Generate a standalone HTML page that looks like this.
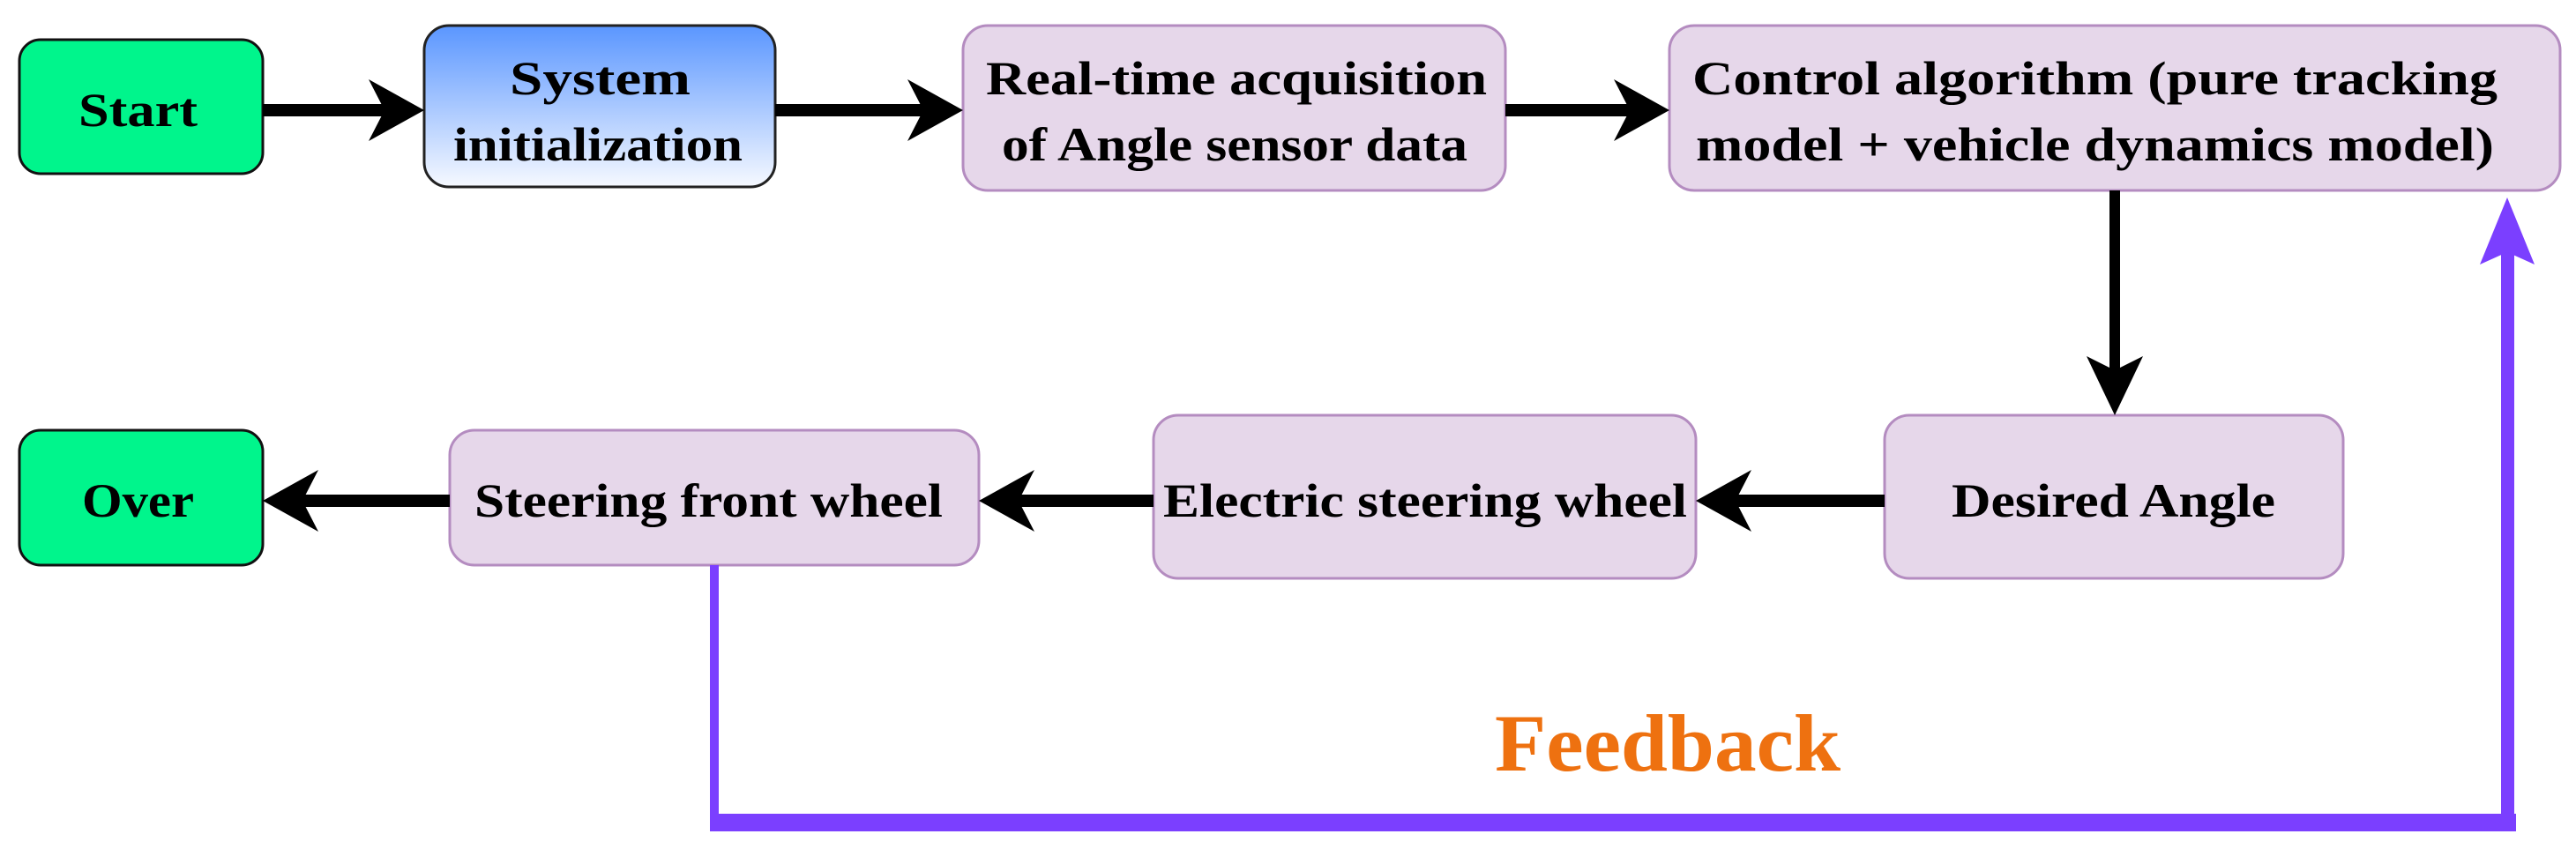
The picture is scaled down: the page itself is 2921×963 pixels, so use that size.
<!DOCTYPE html>
<html><head><meta charset="utf-8"><style>html,body{margin:0;padding:0;background:#fff;}svg{display:block}</style></head>
<body>
<svg width="2921" height="963" viewBox="0 0 2921 963" xmlns="http://www.w3.org/2000/svg">
<defs>
<linearGradient id="g" x1="0" y1="0" x2="0" y2="1"><stop offset="0" stop-color="#5a96ff"/><stop offset="1" stop-color="#f6f9ff"/></linearGradient>
</defs>
<g font-family="Liberation Serif, serif" font-weight="bold" fill="#000" text-anchor="start">
<rect x="22" y="45" width="276" height="152" rx="24" fill="#00f58c" stroke="#111" stroke-width="3"/>
<rect x="481" y="29" width="398" height="183" rx="28" fill="url(#g)" stroke="#222" stroke-width="3"/>
<rect x="1092" y="29" width="615" height="187" rx="28" fill="#e6d7ea" stroke="#b48cc0" stroke-width="3"/>
<rect x="1893" y="29" width="1010" height="187" rx="28" fill="#e6d7ea" stroke="#b48cc0" stroke-width="3"/>
<rect x="2137" y="471" width="520" height="185" rx="28" fill="#e6d7ea" stroke="#b48cc0" stroke-width="3"/>
<rect x="1308" y="471" width="615" height="185" rx="28" fill="#e6d7ea" stroke="#b48cc0" stroke-width="3"/>
<rect x="510" y="488" width="600" height="153" rx="28" fill="#e6d7ea" stroke="#b48cc0" stroke-width="3"/>
<rect x="22" y="488" width="276" height="153" rx="24" fill="#00f58c" stroke="#111" stroke-width="3"/>
<g font-size="54">
<text x="89" y="143" textLength="135" lengthAdjust="spacingAndGlyphs">Start</text>
<text x="578" y="107" textLength="205" lengthAdjust="spacingAndGlyphs">System</text>
<text x="514" y="182" textLength="328" lengthAdjust="spacingAndGlyphs">initialization</text>
<text x="1118" y="107" textLength="568" lengthAdjust="spacingAndGlyphs">Real-time acquisition</text>
<text x="1136" y="182" textLength="528" lengthAdjust="spacingAndGlyphs">of Angle sensor data</text>
<text x="1919" y="107" textLength="913" lengthAdjust="spacingAndGlyphs">Control algorithm (pure tracking</text>
<text x="1923" y="182" textLength="905" lengthAdjust="spacingAndGlyphs">model + vehicle dynamics model)</text>
<text x="2213" y="586" textLength="367" lengthAdjust="spacingAndGlyphs">Desired Angle</text>
<text x="1319" y="586" textLength="594" lengthAdjust="spacingAndGlyphs">Electric steering wheel</text>
<text x="538" y="586" textLength="531" lengthAdjust="spacingAndGlyphs">Steering front wheel</text>
<text x="93" y="586" textLength="127" lengthAdjust="spacingAndGlyphs">Over</text>
</g>
<text x="1695" y="874" font-size="92" fill="#ee7110" textLength="392" lengthAdjust="spacingAndGlyphs">Feedback</text>
</g>
<g fill="#000">
<rect x="298" y="118" width="140" height="14"/><polygon points="481,125 418,90 436,125 418,160"/>
<rect x="879" y="118" width="170" height="14"/><polygon points="1092,125 1029,90 1047,125 1029,160"/>
<rect x="1707" y="118" width="145" height="14"/><polygon points="1893,125 1830,90 1848,125 1830,160"/>
<rect x="2392" y="216" width="12" height="215"/><polygon points="2398,471 2366,404 2398,420 2430,404"/>
<rect x="1960" y="561" width="177" height="14"/><polygon points="1923,568 1986,533 1968,568 1986,603"/>
<rect x="1150" y="561" width="158" height="14"/><polygon points="1110,568 1173,533 1155,568 1173,603"/>
<rect x="335" y="561" width="175" height="14"/><polygon points="298,568 361,533 343,568 361,603"/>
</g>
<g fill="#7b3fff">
<rect x="805" y="641" width="10" height="290"/>
<rect x="805" y="923" width="2048" height="20"/>
<rect x="2836" y="280" width="15" height="663"/>
<polygon points="2843,224 2812,300 2843,286 2874,300"/>
</g>
</svg>
</body></html>
